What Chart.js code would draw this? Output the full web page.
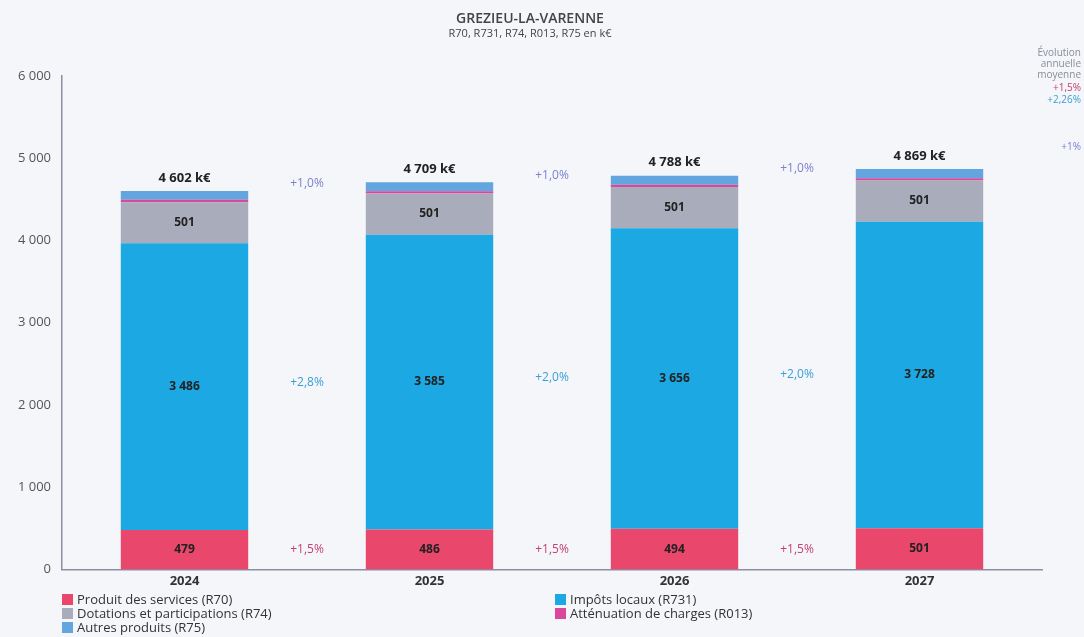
<!DOCTYPE html>
<html>
<head>
<meta charset="utf-8">
<script src="https://cdn.jsdelivr.net/npm/chart.js@4"></script>
<style>
  body { margin: 0; background: #f4f6fa; font-family: "Open Sans", sans-serif; }
  #wrap { position: relative; width: 1084px; height: 637px; }
  #legend { position: absolute; left: 62px; top: 592px; width: 1000px; font-size: 13px; color: #333; line-height: 14px; }
  .item { position: absolute; white-space: nowrap; }
  .item span { display: inline-block; width: 11px; height: 11px; margin-right: 4px; vertical-align: -1px; }
</style>
</head>
<body>
<div id="wrap">
  <canvas id="myChart" width="1084" height="637"></canvas>
  <div id="legend"></div>
</div>
<script>
const years = ["2024", "2025", "2026", "2027"];
const r70 = [479, 486, 494, 501];
const r731 = [3486, 3585, 3656, 3728];
const r74 = [501, 501, 501, 501];
const r013 = [28, 28, 28, 28];
const r75 = [108, 109, 109, 111];
const totals = [4602, 4709, 4788, 4869];
const evolR70 = ["+1,5%", "+1,5%", "+1,5%"];
const evolR731 = ["+2,8%", "+2,0%", "+2,0%"];
const evolTotal = ["+1,0%", "+1,0%", "+1,0%"];

const colors = {
  r70: "#e9476b",
  r731: "#1ca8e3",
  r74: "#a9adbb",
  r013: "#d9489b",
  r75: "#62a5df",
};

const fmt = (v) => String(v).replace(/\B(?=(\d{3})+(?!\d))/g, " ");

// labels inside bars, totals on top, evolutions between bars
const annotations = {
  id: "annotations",
  afterDatasetsDraw(chart) {
    const ctx = chart.ctx;
    const x = chart.scales.x;
    const y = chart.scales.y;
    ctx.save();
    ctx.textAlign = "center";
    ctx.textBaseline = "middle";
    ctx.fillStyle = "#222";
    years.forEach((yr, i) => {
      const cx = x.getPixelForValue(i);
      ctx.font = "bold 12px 'Open Sans'";
      ctx.fillText(fmt(r70[i]), cx, y.getPixelForValue(r70[i] / 2));
      ctx.fillText(fmt(r731[i]), cx, y.getPixelForValue(r70[i] + r731[i] / 2));
      ctx.fillText(fmt(r74[i]), cx, y.getPixelForValue(r70[i] + r731[i] + r74[i] / 2));
      ctx.font = "bold 13px 'Open Sans'";
      ctx.fillText(fmt(totals[i]) + " k€", cx, y.getPixelForValue(totals[i]) - 13);
    });
    ctx.font = "12px 'Open Sans'";
    for (let i = 0; i < 3; i++) {
      const mx = (x.getPixelForValue(i) + x.getPixelForValue(i + 1)) / 2;
      ctx.fillStyle = "#7d80cf";
      ctx.fillText(evolTotal[i], mx, y.getPixelForValue(totals[i]) - 7);
      ctx.fillStyle = "#3a9fd6";
      ctx.fillText(evolR731[i], mx, y.getPixelForValue(r70[i] + r731[i] / 2) - 4);
      ctx.fillStyle = "#c4416c";
      ctx.fillText(evolR70[i], mx, y.getPixelForValue(r70[i] / 2));
    }
    // average yearly evolution on the right
    ctx.font = "10px 'Open Sans'";
    ctx.fillStyle = "#8a8d99";
    ctx.textAlign = "right";
    ctx.fillText("Évolution", 1081, 53);
    ctx.fillText("annuelle", 1081, 64);
    ctx.fillText("moyenne", 1081, 75);
    ctx.fillStyle = "#c4416c";
    ctx.fillText("+1,5%", 1081, 88);
    ctx.fillStyle = "#3a9fd6";
    ctx.fillText("+2,26%", 1081, 100);
    ctx.fillStyle = "#7d80cf";
    ctx.fillText("+1%", 1081, 147);
    // title
    ctx.textAlign = "center";
    ctx.fillStyle = "#444";
    ctx.font = "600 14px 'Open Sans'";
    ctx.fillText("GREZIEU-LA-VARENNE", 530, 19);
    ctx.font = "11px 'Open Sans'";
    ctx.fillText("R70, R731, R74, R013, R75 en k€", 530, 34);
    ctx.restore();
  },
};

const chartData = {
  labels: years,
  datasets: [
    { label: "Produit des services (R70)", data: r70, backgroundColor: colors.r70 },
    { label: "Impôts locaux (R731)", data: r731, backgroundColor: colors.r731 },
    { label: "Dotations et participations (R74)", data: r74, backgroundColor: colors.r74 },
    { label: "Atténuation de charges (R013)", data: r013, backgroundColor: colors.r013 },
    { label: "Autres produits (R75)", data: r75, backgroundColor: colors.r75 },
  ],
};

const config = {
  type: "bar",
  data: chartData,
  options: {
    responsive: false,
    animation: false,
    layout: { padding: { top: 76, right: 42, bottom: 52, left: 0 } },
    datasets: { bar: { categoryPercentage: 1, barPercentage: 0.52 } },
    plugins: { legend: { display: false }, tooltip: { enabled: false } },
    scales: {
      x: {
        stacked: true,
        grid: { display: false },
        border: { color: "#8c8fa3", width: 1.5 },
        ticks: { color: "#333", font: { family: "Open Sans", size: 13, weight: "bold" }, padding: -4 },
      },
      y: {
        stacked: true,
        min: 0,
        max: 6000,
        grid: { display: false },
        border: { color: "#8c8fa3", width: 1.5 },
        afterFit(scale) { scale.width = 62; },
        ticks: {
          stepSize: 1000,
          color: "#555",
          font: { family: "Open Sans", size: 13 },
          callback: (v) => fmt(v),
        },
      },
    },
  },
  plugins: [annotations],
};

const myChart = new Chart(document.getElementById("myChart"), config);

// legend in two columns
const legend = document.getElementById("legend");
const spots = [[0, 0], [493, 0], [0, 14], [493, 14], [0, 28]];
chartData.datasets.forEach((ds, i) => {
  const el = document.createElement("div");
  el.className = "item";
  el.style.left = spots[i][0] + "px";
  el.style.top = spots[i][1] + "px";
  el.innerHTML = '<span style="background:' + ds.backgroundColor + '"></span>' + ds.label;
  legend.appendChild(el);
});
</script>
</body>
</html>
